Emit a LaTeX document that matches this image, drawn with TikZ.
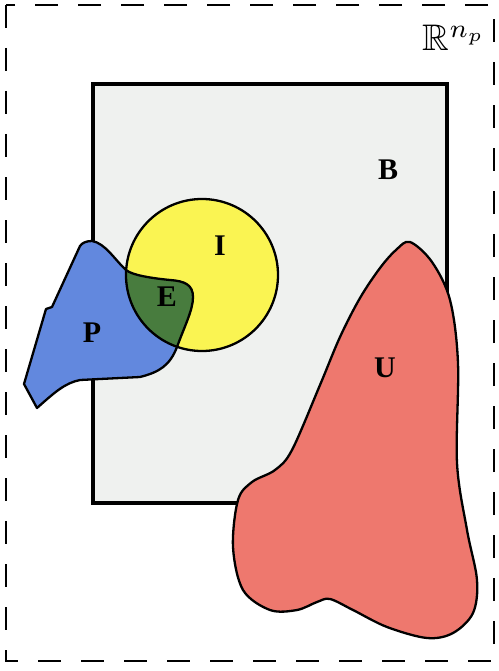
\documentclass[tikz,border=0pt]{standalone}
\usepackage{fontspec}
\usepackage{amssymb}
\setmainfont{Liberation Serif}
\definecolor{boxgrey}{RGB}{239,241,239}
\definecolor{iyellow}{RGB}{250,244,82}
\definecolor{pblue}{RGB}{98,136,222}
\definecolor{egreen}{RGB}{72,124,62}
\definecolor{ured}{RGB}{238,120,110}
\tikzset{
  region/.style={draw=black, line width=2.3pt, line join=round},
  lbl/.style={font=\fontsize{30}{34}\selectfont\bfseries, inner sep=0pt},
}
\begin{document}
\begin{tikzpicture}[x=1pt, y=-1pt]
\useasboundingbox (0,0) rectangle (498,671);
% outer space
\draw[line width=2.8pt, dash pattern=on 23pt off 20pt] (6,5) rectangle (494,661);
\node[scale=3.7, inner sep=0pt] (rn) at (454,38) {$\mathbb{R}^{n_p}$};
% box B
\draw[fill=boxgrey, line width=3.6pt] (93,84) rectangle (447,503);
\node[lbl] (B) at (388,170) {B};
% set I
\fill[iyellow] (202,275) circle (76);
% set P
\def\Ppath{(80,246) -- (52,307) -- (46,309) -- (24,384) -- (37,408)
  .. controls (55,392) and (65,383) .. (80,380) -- (140,377)
  .. controls (160,372) and (170,365) .. (177,347)
  .. controls (185,325) and (193,310) .. (193,297)
  .. controls (193,285) and (185,281) .. (170,280)
  .. controls (150,278) and (132,275) .. (126,270)
  .. controls (115,260) and (105,243) .. (92,241)
  .. controls (86,241) and (82,243) .. (80,246) -- cycle}
\fill[pblue] \Ppath;
% E = P within I
\begin{scope}
  \clip (202,275) circle (76);
  \fill[egreen] \Ppath;
\end{scope}
\draw[region] \Ppath;
\draw[region] (202,275) circle (76);
\node[lbl] (I) at (220,246) {I};
\node[lbl] (E) at (167,297) {E};
\node[lbl] (P) at (92,333) {P};
% set U
\draw[region, fill=ured] plot[smooth cycle, tension=0.55] coordinates {
  (410,242) (432,262) (450,300) (458,363) (457,463) (467,530) (477,580)
  (473,613) (453,633) (427,638) (387,627) (353,610) (330,599) (317,602)
  (297,610) (270,610) (243,590) (233,547) (238,500) (252,482) (275,470)
  (292,450) (320,385) (340,337) (360,298) (380,268) (396,250)};
\node[lbl] (U) at (385,368) {U};
\end{tikzpicture}
\end{document}
